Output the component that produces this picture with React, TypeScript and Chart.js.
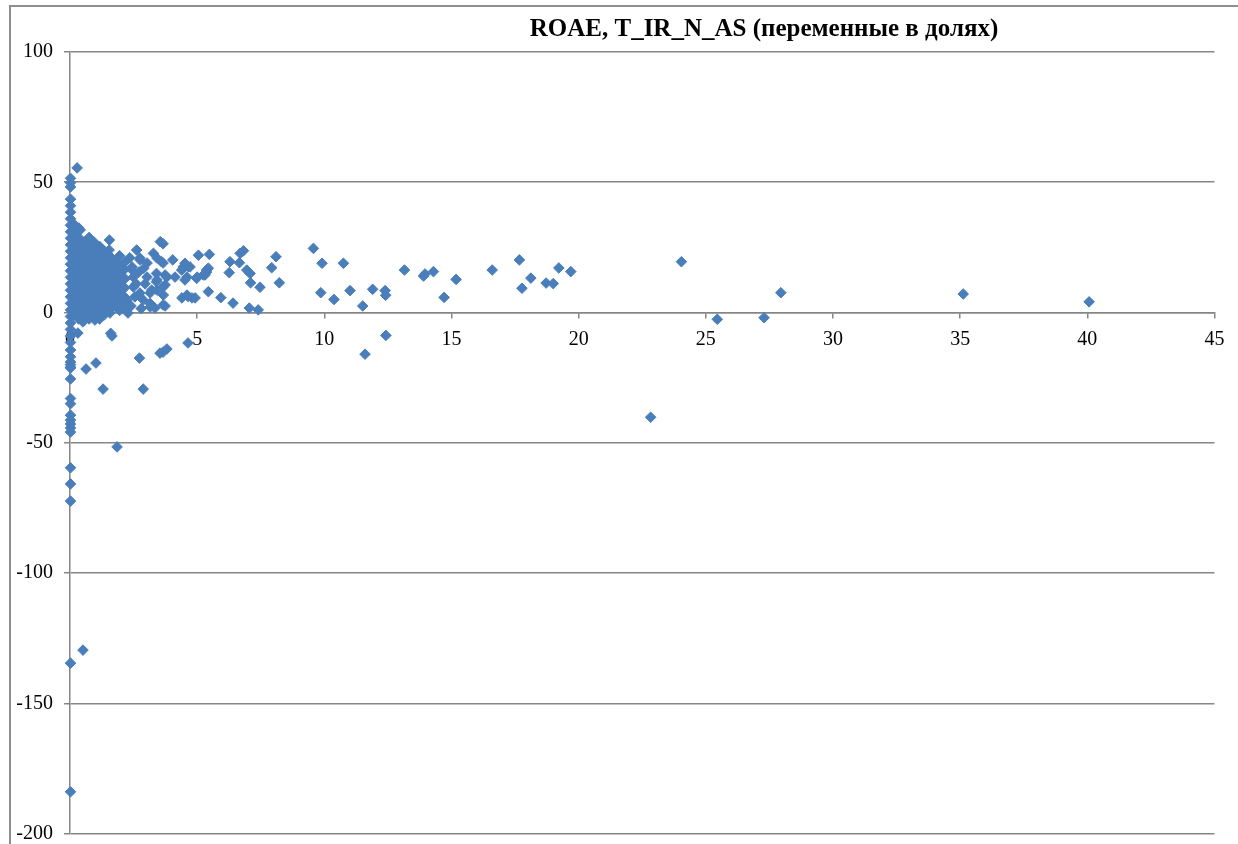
import React, { useEffect, useRef } from "react";
import { Chart, registerables } from "chart.js";

Chart.register(...registerables);

const TITLE = "ROAE, T_IR_N_AS (переменные в долях)";

const X_MIN = 0;
const X_MAX = 45;
const X_STEP = 5;
const Y_MIN = -200;
const Y_MAX = 100;
const Y_STEP = 50;

// points lying on (or next to) x = 0
const axisColumn: [number, number][] = [
  [0.02, 51.5], [0.02, 49.8], [0.02, 48.2], [0.02, 43.5], [0.02, 41], [0.02, 38.5],
  [0.02, 36], [0.02, 33.5], [0.02, 31], [0.02, 28.5], [0.02, 26], [0.02, 23.5],
  [0.02, 21], [0.02, 18.5], [0.02, 16], [0.02, 13.5], [0.02, 11], [0.02, 8.5],
  [0.02, 6], [0.02, 3.5], [0.02, 1], [0.02, -1.5], [0.02, -4], [0.02, -6.5],
  [0.02, -9], [0.02, -11.5], [0.02, -14.4], [0.02, -17], [0.02, -19], [0.02, -20],
  [0.02, -21], [0.02, -21.3], [0.02, -25.5], [0.02, -33], [0.02, -35], [0.02, -39.4],
  [0.02, -41.3], [0.02, -42.8], [0.02, -44.3], [0.02, -45.9], [0.02, -59.6],
  [0.02, -65.8], [0.02, -72.4], [0.02, -134.6], [0.02, -184],
];

// the dense cluster near the origin
const denseCluster: [number, number][] = [
  [0.28, 55.5], [0.4, 31.7], [0.31, -7.9],
  [0.15, 34], [0.16, 30.5], [0.15, 27], [0.14, 23.5], [0.15, 20], [0.16, 16.5],
  [0.15, 13], [0.14, 9.5], [0.15, 6], [0.16, 2.5], [0.15, -1],
  [0.35, 32.4], [0.34, 28.8], [0.36, 25.3], [0.35, 21.8], [0.34, 18.3], [0.36, 14.8],
  [0.35, 11.3], [0.34, 7.8], [0.36, 4.3], [0.35, 0.8], [0.34, -2.5],
  [0.55, 27], [0.54, 23.5], [0.56, 20], [0.55, 16.5], [0.54, 13], [0.56, 9.5],
  [0.55, 6], [0.54, 2.5], [0.56, -1], [0.51, -3.6],
  [0.75, 28.8], [0.74, 25.3], [0.76, 21.8], [0.75, 18.3], [0.74, 14.8], [0.76, 11.3],
  [0.75, 7.8], [0.74, 4.3], [0.76, 0.8], [0.75, -2.5],
  [0.95, 27], [0.94, 23.5], [0.96, 20], [0.95, 16.5], [0.94, 13], [0.96, 9.5],
  [0.95, 6], [0.94, 2.5], [0.96, -1], [0.98, -2.9],
  [1.15, 25.3], [1.14, 21.8], [1.16, 18.3], [1.15, 14.8], [1.14, 11.3], [1.16, 7.8],
  [1.15, 4.3], [1.14, 0.8], [1.16, -2.5], [1.18, 25.2],
  [1.35, 23.5], [1.34, 20], [1.36, 16.5], [1.35, 13], [1.34, 9.5], [1.36, 6],
  [1.35, 2.5], [1.34, -1],
  [1.55, 27.8], [1.54, 24], [1.55, 21.8], [1.56, 18.3], [1.55, 14.8], [1.54, 11.3],
  [1.56, 7.8], [1.55, 4.3], [1.54, 0.8], [1.57, -0.2],
  [1.75, 20], [1.74, 16.5], [1.76, 13], [1.75, 9.5], [1.74, 6], [1.76, 2.5],
  [1.95, 21.8], [1.94, 18.3], [1.96, 14.8], [1.95, 11.3], [1.94, 7.8], [1.96, 4.3],
  [1.95, 0.8],
  [2.15, 19.4], [2.14, 16.5], [2.16, 13], [2.15, 9.5], [2.14, 6], [2.16, 2.5],
  [2.28, -0.2], [2.44, 17.5], [2.44, 16.3], [2.49, 13.6], [2.49, 9.8], [2.24, 4.8],
  [2.35, 21], [2.6, 11], [2.55, 6], [2.4, 2.5], [2.7, 15.5], [2.9, 17], [2.95, 11],
  [2.8, 1.5],
];

// moderately dense zone, x from 2.5 to 5.5
const midCluster: [number, number][] = [
  [2.62, 24], [3.28, 22.7], [3.55, 27.2], [3.66, 26.4], [2.75, 20.9], [2.75, 20.2],
  [3.03, 19], [3.42, 20.9], [3.6, 19.5], [3.66, 19], [4.04, 20.2], [4.45, 17.5],
  [4.52, 18.9], [4.65, 17.6], [4.72, 17.5], [4.39, 16.3], [4.6, 13.6], [5, 13.6],
  [4.98, 13.1], [5.37, 15.5], [5.44, 17], [5.24, 14.4], [3.03, 13.6], [3.42, 12.5],
  [3.81, 13.6], [4.13, 13.6], [3.74, 14.4], [3.4, 15], [4.52, 12.5], [3.4, 11.8],
  [3.74, 10.6], [2.75, 7.5], [3.15, 7.5], [3.42, 8.6], [3.66, 9.8], [3.21, 8.6],
  [3.67, 6.7], [2.88, 4.8], [3.15, 2.1], [3.34, 1.7], [3.66, 2.9], [3.74, 2.5],
  [3.15, 3.5], [4.4, 5.6], [4.6, 6.7], [4.65, 6.1], [4.8, 5.6], [4.92, 5.6],
  [5.05, 22], [5.48, 22.3], [5.37, 16.3], [5.31, 14.4], [5.44, 8],
];

// scattered positive points further right
const spreadPoints: [number, number][] = [
  [5.93, 5.7], [6.41, 3.6], [6.29, 19.5], [6.26, 15.3], [6.66, 19.1], [6.69, 22.7],
  [6.82, 23.7], [6.95, 16.3], [7.08, 15], [7.1, 11.4], [7.47, 9.7], [7.05, 1.7],
  [7.4, 1], [7.93, 17.2], [8.1, 21.4], [8.23, 11.4], [9.57, 24.6], [9.91, 18.9],
  [9.86, 7.6], [10.38, 5], [10.75, 18.9], [11.01, 8.4], [11.51, 2.5], [11.9, 8.9],
  [12.39, 8.4], [12.41, 6.6], [13.15, 16.3], [13.9, 14], [13.96, 14.8], [14.29, 15.7],
  [14.71, 5.8], [15.18, 12.7], [16.6, 16.3], [17.67, 20.2], [17.77, 9.3], [18.12, 13.2],
  [18.72, 11.3], [19, 11.1], [19.22, 17.1], [19.69, 15.7], [24.04, 19.5], [27.95, 7.6],
  [35.12, 7.1], [40.07, 4.1],
];

// negative values away from the axis
const lossPoints: [number, number][] = [
  [1.6, -8], [1.65, -9], [0.63, -21.7], [1.02, -19.4], [1.3, -29.4],
  [2.73, -17.5], [2.88, -29.4], [3.54, -15.6], [3.66, -15.2], [3.81, -14],
  [4.64, -11.7], [1.85, -51.6], [0.51, -129.6], [11.6, -16], [12.42, -8.8],
  [22.83, -40.2], [25.45, -2.6], [27.29, -2],
];

const SERIF = '"Liberation Serif", "Times New Roman", serif';
const AXIS_GREY = "#868686";
const MARKER = "#4a7ebb";

export default function App() {
  const canvasRef = useRef<HTMLCanvasElement | null>(null);

  useEffect(() => {
    const canvas = canvasRef.current;
    if (!canvas) return;
    const all = [...axisColumn, ...denseCluster, ...midCluster, ...spreadPoints, ...lossPoints];
    const chart = new Chart(canvas, {
      type: "scatter",
      data: {
        datasets: [
          {
            data: all.map(([x, y]) => ({ x, y })),
            pointStyle: "rectRot",
            pointRadius: 5.3,
            pointHoverRadius: 5.3,
            backgroundColor: MARKER,
            borderColor: MARKER,
            borderWidth: 1,
            clip: false,
          },
        ],
      },
      options: {
        responsive: false,
        animation: false,
        events: [],
        layout: { padding: { left: 0, right: 0, top: 0, bottom: 46.5 } },
        plugins: {
          legend: { display: false },
          tooltip: { enabled: false },
          title: {
            display: true,
            text: TITLE,
            color: "#000",
            font: { family: SERIF, size: 25, weight: "bold" },
            padding: { top: 15, bottom: 7 },
          },
        },
        scales: {
          x: {
            type: "linear",
            position: { y: 0 } as any,
            min: X_MIN,
            max: X_MAX,
            ticks: {
              stepSize: X_STEP,
              color: "#000",
              font: { family: SERIF, size: 20 },
              padding: 10,
              maxRotation: 0,
              autoSkip: false,
            },
            grid: {
              drawOnChartArea: false,
              drawTicks: true,
              tickLength: 5,
              color: AXIS_GREY,
              lineWidth: 1.5,
            },
            border: { display: true, color: AXIS_GREY, width: 1.5 },
            afterFit: (s: any) => {
              s.height = 0;
            },
          },
          y: {
            type: "linear",
            position: "left",
            min: Y_MIN,
            max: Y_MAX,
            ticks: {
              stepSize: Y_STEP,
              color: "#000",
              font: { family: SERIF, size: 20 },
              padding: 11,
            },
            grid: { color: AXIS_GREY, lineWidth: 1.5, tickLength: 6 },
            border: { display: true, color: AXIS_GREY, width: 1.5 },
            afterFit: (s: any) => {
              s.width = 70;
            },
          },
          pad: {
            type: "linear",
            position: "right",
            display: true,
            min: 0,
            max: 1,
            grid: { display: false },
            border: { display: false },
            ticks: { display: false },
            afterFit: (s: any) => {
              s.width = 313.5;
            },
          },
        },
      } as any,
    });
    return () => chart.destroy();
  }, []);

  return (
    <div
      style={{
        position: "fixed",
        left: 0,
        top: 0,
        width: 1238,
        height: 844,
        overflow: "hidden",
        background: "#fff",
      }}
    >
      <div
        style={{
          position: "absolute",
          left: 9,
          top: 5,
          width: 1700,
          height: 1000,
          borderLeft: "2px solid #8e8e8e",
          borderTop: "2px solid #8e8e8e",
        }}
      />
      <canvas
        ref={canvasRef}
        width={1528}
        height={880}
        style={{ position: "absolute", left: 0, top: 0, display: "block" }}
      />
    </div>
  );
}
